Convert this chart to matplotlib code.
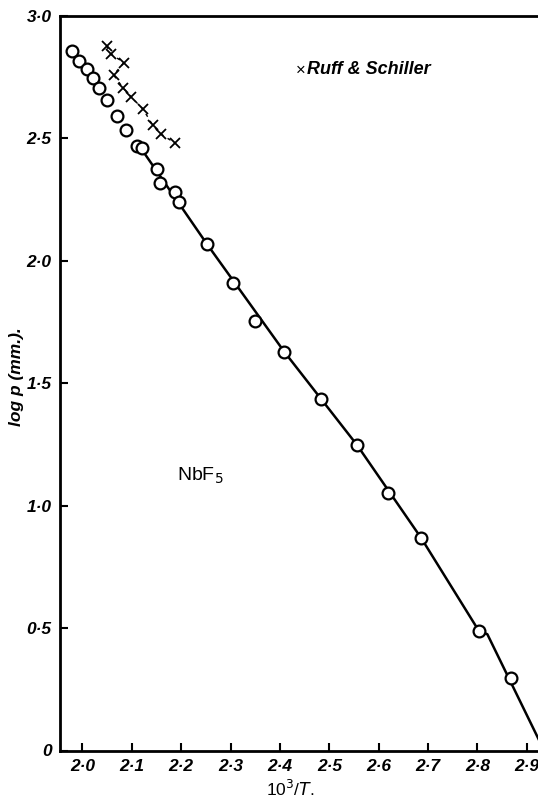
import matplotlib
matplotlib.use("Agg")
import matplotlib.pyplot as plt

# Measured points (open circles)
circ_x = [1.979, 1.993, 2.009, 2.021, 2.034, 2.050, 2.070, 2.088, 2.111, 2.121,
          2.151, 2.157, 2.188, 2.196, 2.252, 2.305, 2.350, 2.409, 2.483, 2.556,
          2.619, 2.686, 2.803, 2.868]
circ_y = [2.859, 2.818, 2.783, 2.746, 2.705, 2.657, 2.592, 2.535, 2.467, 2.462,
          2.375, 2.318, 2.281, 2.240, 2.069, 1.910, 1.755, 1.628, 1.436, 1.248,
          1.052, 0.868, 0.488, 0.296]

# Ruff & Schiller (crosses)
rs_x = [2.049, 2.057, 2.084, 2.063, 2.083, 2.098, 2.123, 2.142, 2.159, 2.188]
rs_y = [2.878, 2.845, 2.810, 2.759, 2.705, 2.671, 2.619, 2.555, 2.518, 2.480]

# Drawn curve
line_x = [2.115, 2.252, 2.409, 2.556, 2.686, 2.803, 2.820, 2.935]
line_y = [2.470, 2.069, 1.628, 1.248, 0.868, 0.488, 0.475, 0.000]

xticks = [2.0, 2.1, 2.2, 2.3, 2.4, 2.5, 2.6, 2.7, 2.8, 2.9]
xtick_labels = ["2·0", "2·1", "2·2", "2·3", "2·4", "2·5", "2·6", "2·7", "2·8", "2·9"]
yticks = [0, 0.5, 1.0, 1.5, 2.0, 2.5, 3.0]
ytick_labels = ["0", "0·5", "1·0", "1·5", "2·0", "2·5", "3·0"]

plt.rcParams['font.family'] = ['Liberation Sans', 'DejaVu Sans']

fig = plt.figure(figsize=(5.38, 8.0), dpi=100)
ax = fig.add_axes([60/538, 49.5/800, 1 - 60/538, (750.5 - 16)/800])

ax.plot(line_x, line_y, color='black', lw=1.8, zorder=2)
ax.plot(rs_x, rs_y, color='black', lw=1.0, ls=(0, (2.5, 3.5)), zorder=2)
ax.plot(rs_x, rs_y, ls='none', marker='x', ms=7.5, mew=1.3, color='black', zorder=3)
ax.plot(circ_x, circ_y, ls='none', marker='o', ms=8.5, mew=1.6,
        mfc='white', mec='black', zorder=4)

ax.set_xlim(1.9546, 2.9226)
ax.set_ylim(0, 3.0)

ax.set_xticks(xticks)
ax.set_xticklabels(xtick_labels)
ax.set_yticks(yticks)
ax.set_yticklabels(ytick_labels)
for lab in ax.get_xticklabels() + ax.get_yticklabels():
    lab.set_fontstyle('italic')
    lab.set_fontweight('bold')
    lab.set_fontsize(12.5)
ax.tick_params(direction='in', length=6, width=1.5, colors='black')
ax.tick_params(axis='x', pad=6)
ax.tick_params(axis='y', pad=6)

for s in ['left', 'top', 'bottom']:
    ax.spines[s].set_linewidth(2.0)
ax.spines['right'].set_visible(False)

fig.text(17/538, 1 - 377/800, "log p (mm.).", rotation=90, ha='center', va='center',
         fontsize=12.5, fontstyle='italic', fontweight='bold')
fig.text(290/538, 1 - 789/800, "10$^3$/$T$.", ha='center', va='center', fontsize=12.5)
fig.text(200/538, 1 - 476/800, "NbF$_5$", ha='center', va='center', fontsize=14)
fig.text(296/538, 1 - 70/800, "×", ha='left', va='center', fontsize=12)
fig.text(307/538, 1 - 70/800, "Ruff & Schiller", ha='left', va='center',
         fontsize=13, fontstyle='italic', fontweight='bold')

fig.savefig("out.png", dpi=100)
